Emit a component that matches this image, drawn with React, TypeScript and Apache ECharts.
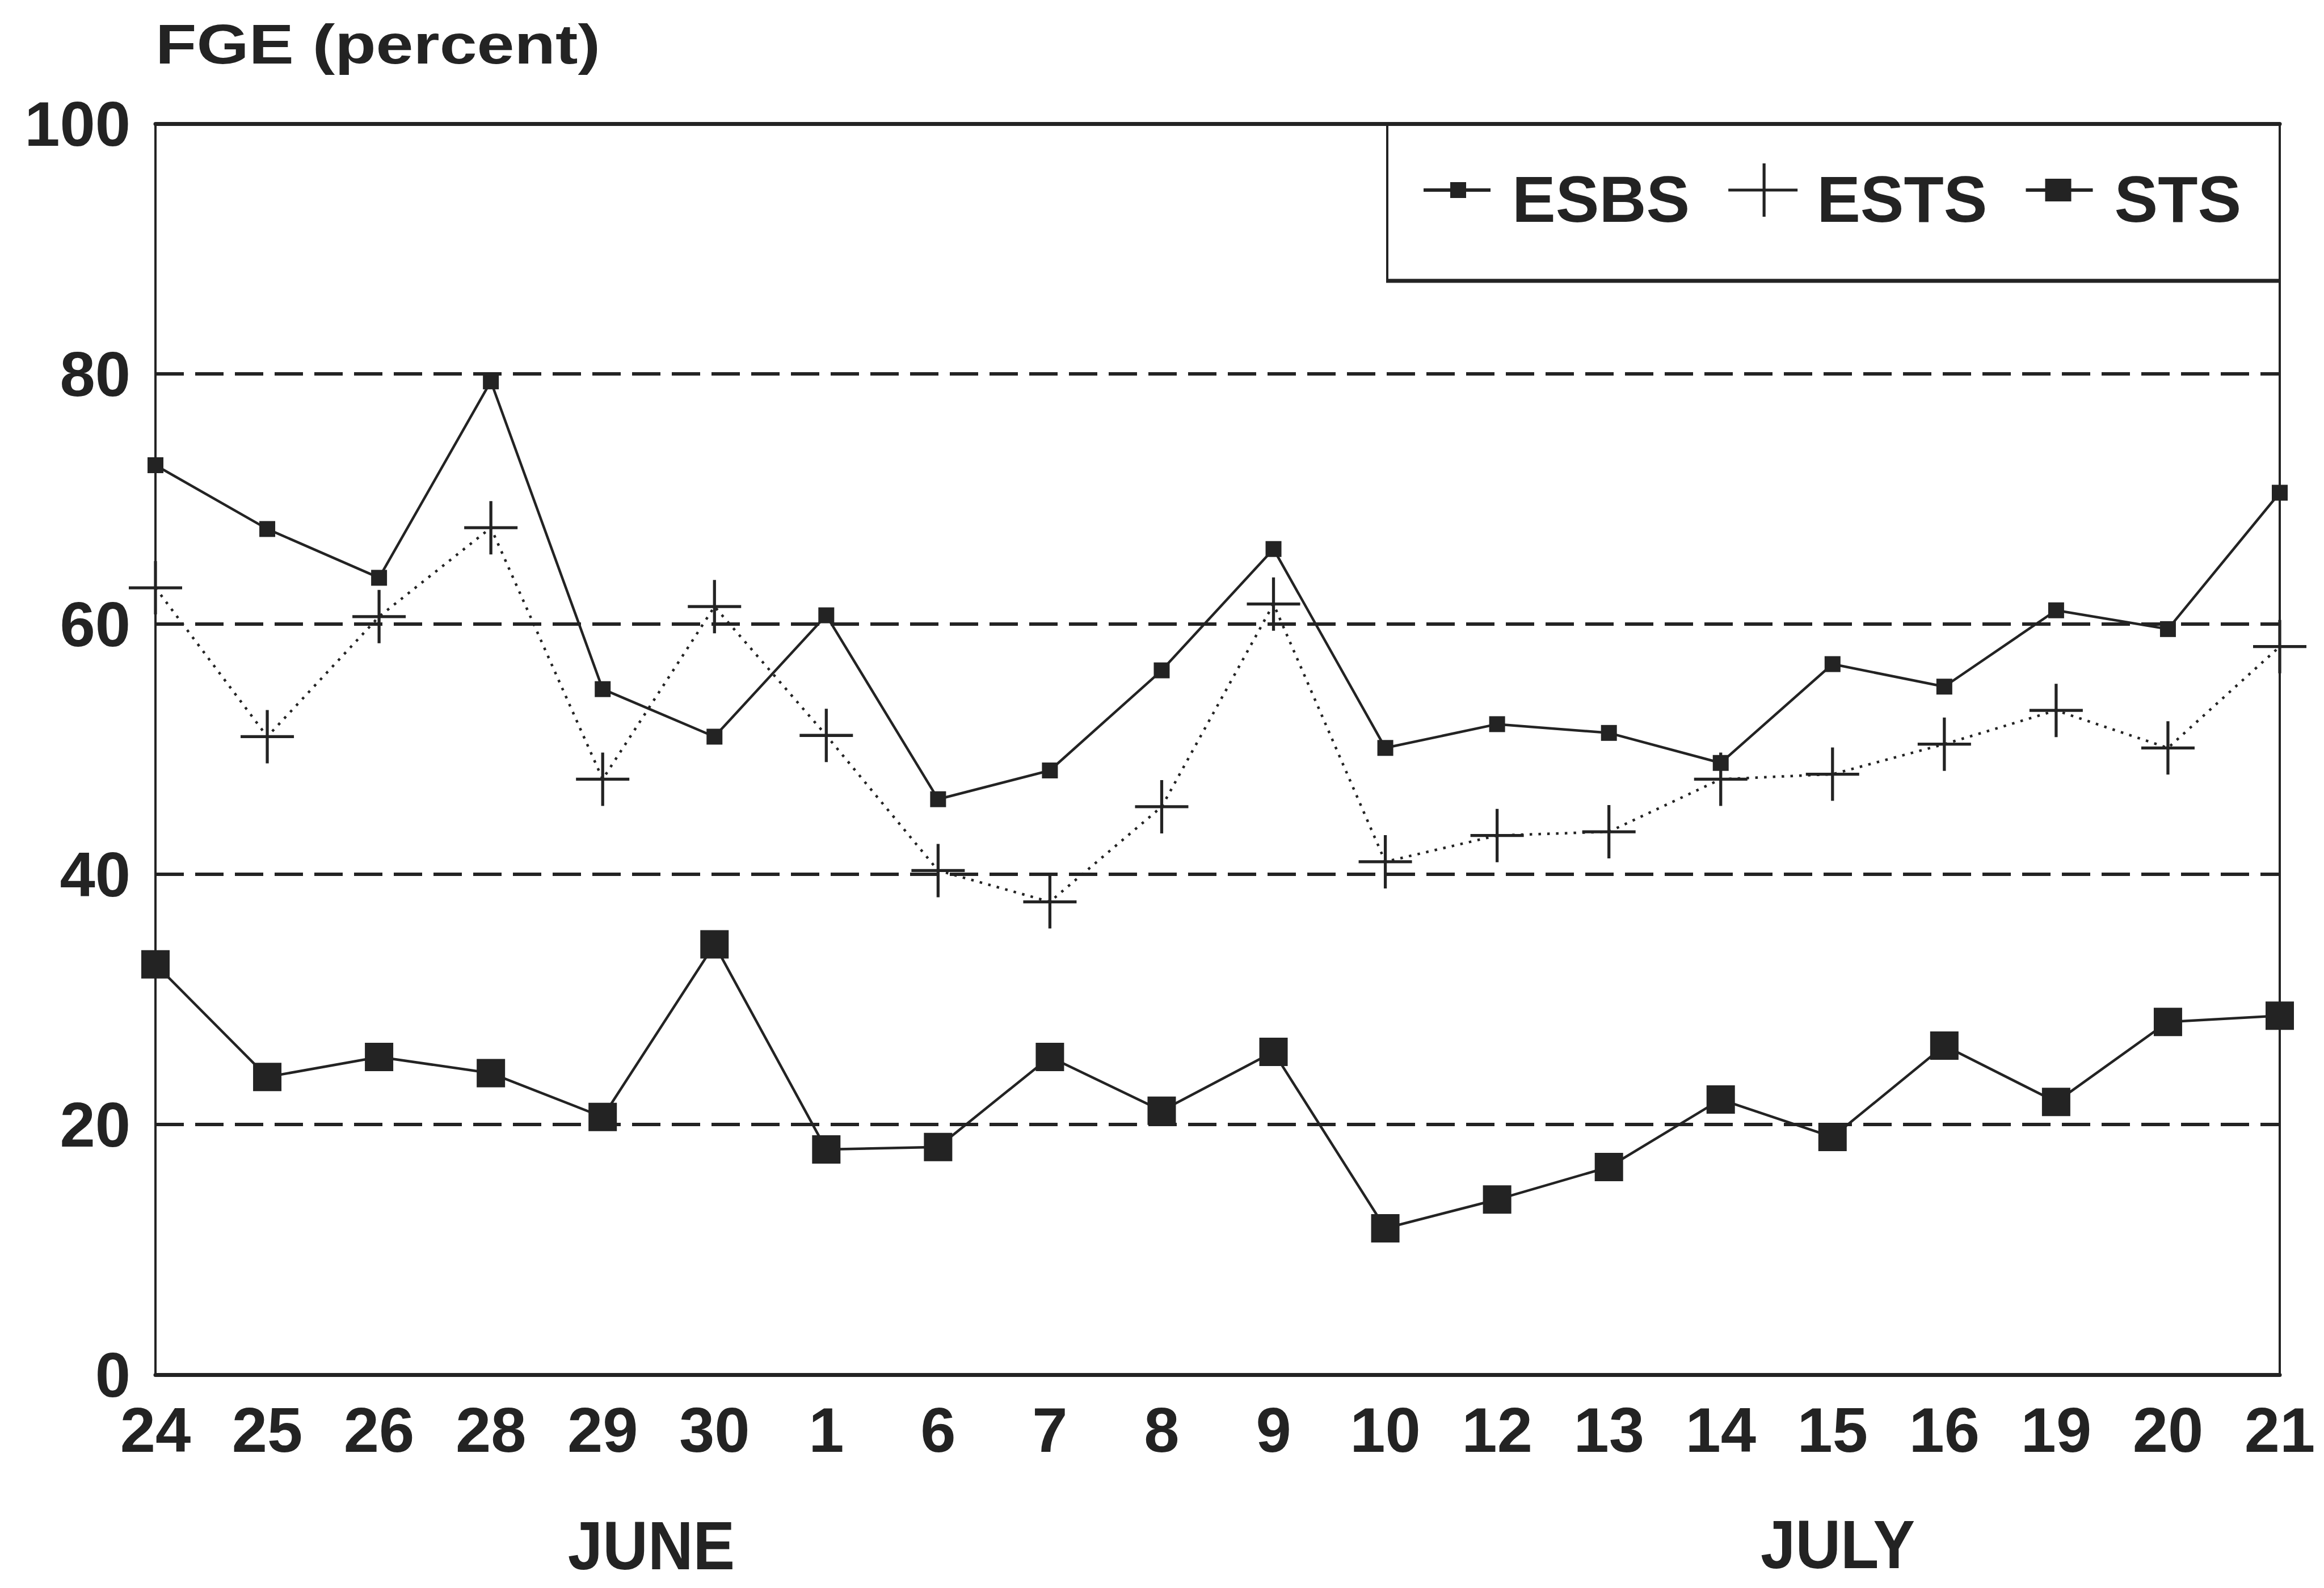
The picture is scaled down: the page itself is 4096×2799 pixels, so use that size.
import React, { useEffect, useRef } from 'react';
import * as echarts from 'echarts';

// Sampling days (June 24 .. July 21)
const days = ['24', '25', '26', '28', '29', '30', '1', '6', '7', '8', '9', '10', '12', '13', '14', '15', '16', '19', '20', '21'];

// FGE (percent) per sampling day
const esbs = [72.7, 67.6, 63.7, 79.4, 54.8, 51.0, 60.7, 46.0, 48.3, 56.3, 66.0, 50.1, 52.0, 51.3, 48.9, 56.8, 55.0, 61.1, 59.6, 70.5];
const ests = [62.9, 51.0, 60.6, 67.7, 47.6, 61.4, 51.1, 40.3, 37.8, 45.4, 61.6, 41.0, 43.1, 43.4, 47.6, 48.0, 50.4, 53.1, 50.1, 58.2];
const sts = [32.8, 23.8, 25.4, 24.1, 20.6, 34.4, 18.0, 18.2, 25.4, 21.1, 25.8, 11.7, 14.0, 16.6, 22.0, 19.0, 26.3, 21.8, 28.2, 28.7];

const seriesNames = ['ESBS', 'ESTS', 'STS'];
const yMin = 0;
const yMax = 100;
const yStep = 20;
const titleText = 'FGE (percent)';
const months = ['JUNE', 'JULY'];

const INK = '#232323';
const FONT = '"Liberation Sans", Arial, Helvetica, sans-serif';

// plus-sign marker built from two thin bars
const CROSS = 'path://M0,47.2H100V52.8H0Z M47.2,0H52.8V100H47.2Z';

// legend icons: a 151x130 box (corner points keep the box size), line + marker inside
const PAD = 'M0,0L0,0M151,130L151,130';
const legendIcons: Record<string, string> = {
  ESBS: `path://${PAD}M0,46H118V52H0ZM47,35H75V63H47Z`,
  ESTS: `path://${PAD}M0,46.4H122V51.6H0ZM60.4,2H65.6V96H60.4Z`,
  STS: `path://${PAD}M0,46H118V52H0ZM34,29H80V69H34Z`,
};

function buildOption() {
  const labelStyle = {
    color: INK,
    fontFamily: FONT,
    fontWeight: 'bold' as const,
    fontSize: 112,
  };
  const lineCommon = {
    type: 'line' as const,
    showSymbol: true,
    showAllSymbol: true,
    xAxisIndex: 0,
    yAxisIndex: 0,
    itemStyle: { color: INK, borderWidth: 0 },
  };
  const monthText = (text: string, x: number, y: number) => ({
    type: 'text',
    x,
    y,
    scaleX: 0.92,
    style: {
      text,
      x: 0,
      y: 0,
      fill: INK,
      font: `bold 120px ${FONT}`,
      align: 'center',
      verticalAlign: 'middle',
      textAlign: 'center',
      textVerticalAlign: 'middle',
    },
  });
  return {
    animation: false,
    backgroundColor: '#ffffff',
    grid: { left: 274, right: 78, top: 218, bottom: 376, containLabel: false },
    legend: {
      left: 2509,
      top: 286,
      orient: 'horizontal',
      padding: 0,
      itemWidth: 151,
      itemHeight: 130,
      itemGap: 68,
      selectedMode: false,
      itemStyle: { color: INK, borderWidth: 0 },
      textStyle: { color: INK, fontFamily: FONT, fontWeight: 'bold', fontSize: 115 },
      data: seriesNames.map((n) => ({ name: n, icon: legendIcons[n] })),
    },
    xAxis: [
      {
        type: 'category',
        data: days,
        boundaryGap: false,
        position: 'bottom',
        axisLine: { show: true, onZero: false, lineStyle: { color: INK, width: 7 } },
        axisTick: { show: false },
        splitLine: { show: false },
        axisLabel: { ...labelStyle, interval: 0, margin: 41 },
      },
      {
        type: 'category',
        data: days,
        boundaryGap: false,
        position: 'top',
        axisLine: { show: true, onZero: false, lineStyle: { color: INK, width: 7 } },
        axisTick: { show: false },
        splitLine: { show: false },
        axisLabel: { show: false },
      },
    ],
    yAxis: [
      {
        type: 'value',
        min: yMin,
        max: yMax,
        interval: yStep,
        position: 'left',
        axisLine: { show: true, onZero: false, lineStyle: { color: INK, width: 4 } },
        axisTick: { show: false },
        axisLabel: { ...labelStyle, margin: 44 },
        splitLine: { show: true, lineStyle: { color: INK, width: 6, type: [50, 20] } },
      },
      {
        type: 'value',
        min: yMin,
        max: yMax,
        interval: yStep,
        position: 'right',
        axisLine: { show: true, onZero: false, lineStyle: { color: INK, width: 4 } },
        axisTick: { show: false },
        axisLabel: { show: false },
        splitLine: { show: false },
      },
    ],
    series: [
      {
        ...lineCommon,
        name: seriesNames[0],
        data: esbs,
        symbol: 'rect',
        symbolSize: 28,
        lineStyle: { color: INK, width: 4.5 },
        z: 3,
      },
      {
        ...lineCommon,
        name: seriesNames[1],
        data: ests,
        symbol: CROSS,
        symbolSize: 94,
        lineStyle: { color: INK, width: 4.5, type: [4.5, 11] },
        z: 2,
      },
      {
        ...lineCommon,
        name: seriesNames[2],
        data: sts,
        symbol: 'rect',
        symbolSize: 50,
        lineStyle: { color: INK, width: 4.5 },
        z: 4,
      },
    ],
    graphic: [
      {
        type: 'text',
        x: 274,
        y: 78,
        scaleX: 1.21,
        style: {
          text: titleText,
          x: 0,
          y: 0,
          fill: INK,
          font: `bold 98px ${FONT}`,
          align: 'left',
          verticalAlign: 'middle',
          textAlign: 'left',
          textVerticalAlign: 'middle',
        },
      },
      monthText(months[0], 1148, 2724),
      monthText(months[1], 3239, 2722),
      // legend frame in the upper-right corner of the plot
      {
        type: 'rect',
        shape: { x: 2445, y: 218, width: 1573, height: 277 },
        style: { fill: 'none', stroke: INK, lineWidth: 4 },
        z: 10,
      },
      {
        type: 'line',
        shape: { x1: 2443, y1: 495, x2: 4018, y2: 495 },
        style: { stroke: INK, lineWidth: 7 },
        z: 10,
      },
    ],
  };
}

export default function App() {
  const ref = useRef<HTMLDivElement>(null);
  useEffect(() => {
    if (!ref.current) return;
    const chart = echarts.init(ref.current, null, { renderer: 'svg', width: 4096, height: 2799 });
    chart.setOption(buildOption() as any);
    return () => {
      chart.dispose();
    };
  }, []);
  return (
    <div
      ref={ref}
      style={{ position: 'fixed', left: 0, top: 0, width: 4096, height: 2799, background: '#ffffff' }}
    />
  );
}
